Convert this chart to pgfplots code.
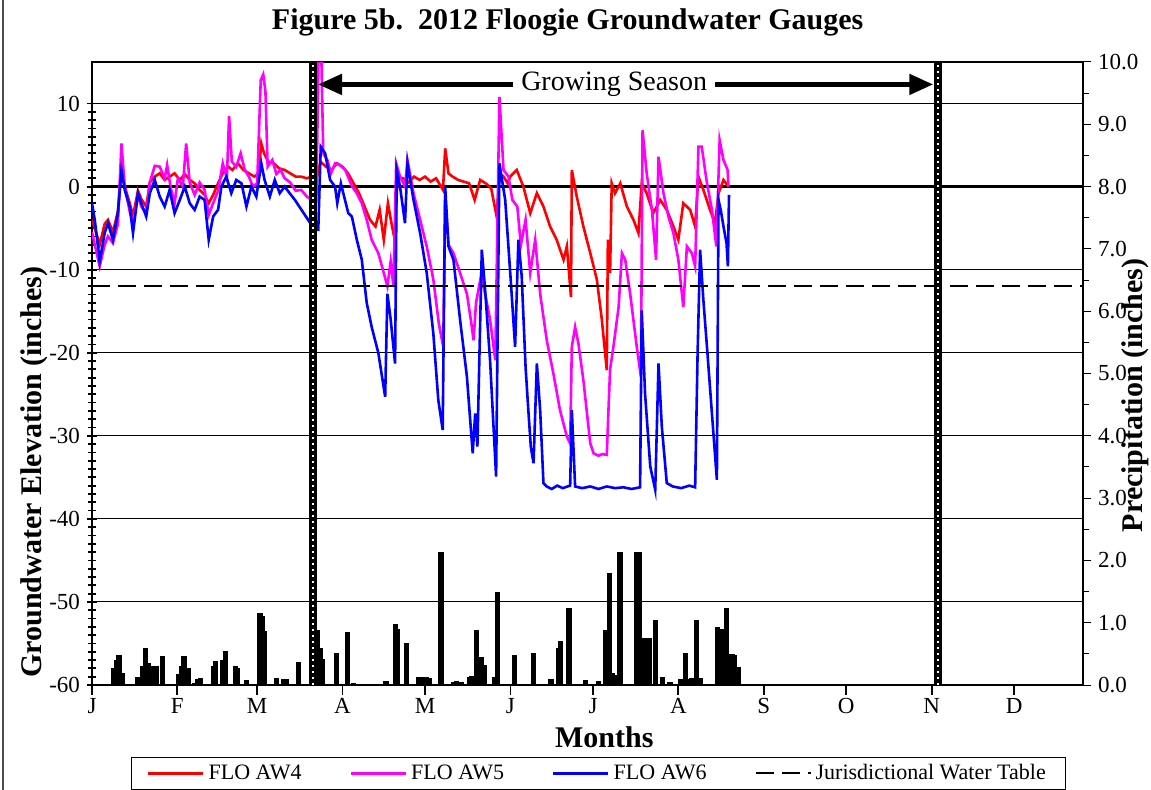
\documentclass[border=0pt]{standalone}
\usepackage{pgfplots}
\pgfplotsset{compat=1.18}
\usetikzlibrary{arrows.meta}
\usepackage{fontspec}
\setmainfont{Liberation Serif}

\definecolor{aw4}{RGB}{255,0,0}
\definecolor{aw5}{RGB}{255,0,255}
\definecolor{aw6}{RGB}{0,0,255}

\begin{document}
\begin{tikzpicture}
\path[use as bounding box] (-46bp,-52.5bp) rectangle (529.5bp,342.5bp);
\draw[line width=0.6bp, black!70] (-44.5bp,-52.5bp) -- (-44.5bp,342.5bp);

% groundwater (left axis)
\begin{axis}[
    name=main,
    at={(0,0)}, anchor=south west,
    scale only axis, width=495.5bp, height=311.5bp,
    xmin=0, xmax=360, ymin=-60, ymax=15,
    xtick={0,31,60,91,121,152,182,213,244,274,305,335},
    xticklabels={J,F,M,A,M,J,J,A,S,O,N,D},
    xticklabel style={yshift=2bp},
    xtick pos=left, ytick pos=left,
    ytick={-60,-50,...,10},
    minor y tick num=9,
    xtick align=outside, ytick align=center,
    major tick length=5bp, minor tick length=3.5bp,
    every tick/.style={black, line width=0.9bp},
    ymajorgrids, grid style={black, line width=0.5bp},
    axis line style={line width=0.6bp},
    tick label style={font=\fontsize{11.5bp}{13bp}\selectfont},
    /pgf/number format/assume math mode=true,
    title={Figure 5b.\ \ 2012 Floogie Groundwater Gauges},
    title style={font=\bfseries\fontsize{15bp}{17bp}\selectfont,
        at={(axis description cs:0.48,1)}, anchor=base, yshift=10.5bp},
    xlabel={Months},
    xlabel style={font=\bfseries\fontsize{15bp}{17bp}\selectfont,
        at={(axis description cs:0.517,0)}, anchor=base, yshift=-31bp},
    ylabel={Groundwater Elevation (inches)},
    ylabel style={font=\bfseries\fontsize{15bp}{17bp}\selectfont,
        at={(axis description cs:-0.0585,0.342)}, anchor=center},
    legend style={at={(0.511,-0.142)}, anchor=center, legend columns=4,
        draw=black, line width=0.6bp,
        font=\fontsize{11bp}{12bp}\selectfont,
        inner xsep=8bp, inner ysep=1.5bp,
        /tikz/every even column/.append style={column sep=22bp}},
    legend image code/.code={\draw[#1] (0bp,0bp) -- (27.5bp,0bp);},
]

\addplot[forget plot, black, line width=1.6bp] coordinates {(0,0) (360,0)};

% FLO AW4
\addplot[aw4, line width=1.3bp] coordinates {
(0,-4) (1,-5) (2.8,-7) (4.6,-4.5) (5.8,-4) (7.6,-5.5) (9.4,-3) (10.7,2)
(11.9,0) (13.7,-2) (14.9,-3.5) (16.7,-0.5) (17.9,-1.5) (19.7,-2.4) (21,0.5)
(22.8,1.2) (24.6,1.6) (26.4,0.8) (28.2,1.2) (30,1.6) (31.9,0.8) (33.7,1.5)
(35.5,0.8) (37.3,0.4) (39.1,-0.4) (40.9,-1) (42.4,-2) (44,-1) (45.8,0.4)
(47.5,1.6) (49.5,2.4) (51,2) (53,2.8) (55,2) (57,1.6) (59,1.2) (60.5,1.6)
(61.5,5.2) (62.5,4) (64,3) (66,2.8) (68,2.2) (70,2) (72,1.6) (74,1.2)
(76,1.2) (78,1) (80,1.2) (81.5,0.8) (83,3) (85,2.4) (87,2) (89,2.8) (91,2.4)
(93,1.6) (95,0.4) (97,-0.8) (99,-2.4) (101,-4) (103,-4.8) (104.5,-2.8)
(106,-6.4) (107.5,-2) (109,-4.8) (110,-6.4) (111,1.2) (113,1) (115,0.5)
(117,1.2) (119,0.8) (121,1.2) (123,0.6) (125,1) (127.5,-0.4) (128.3,4.6)
(129.5,1.6) (131,1.2) (133,0.8) (135,0.6) (137,0.4) (139,-1.6) (141,0.8)
(143,0.4) (145,-0.2) (147,-3.6) (148,1.6) (149.5,1.2) (151,0.4) (151.9,1.2)
(154.3,2) (156.7,0) (159.2,-3.2) (161.6,-0.8) (164,-2.4) (166.4,-4.8)
(168.8,-6.4) (171.3,-8.8) (172.5,-7.2) (174,-13.3) (174.3,2) (176.1,-1.2)
(178.5,-4.8) (181,-8) (183.4,-11.2) (185.2,-16) (187,-22.1) (187.4,-6.4)
(188.2,-10.4) (188.8,0.4) (190,-0.8) (191.9,0.4) (194.3,-2.4) (196.7,-4)
(198.5,-5.6) (199.7,0.4) (201.5,-0.8) (203.9,-3.2) (206.4,-1.6) (208.8,-2.8)
(211.2,-4.8) (213,-6.4) (214.8,-2) (217.3,-2.8) (219.1,-4.8) (220.3,1.2)
(222.1,-0.4) (224.5,-2.8) (226.3,-4.4) (227.6,-0.8) (229.4,0.8) (231.2,0)
};
\addlegendentry{FLO AW4}

% FLO AW5
\addplot[aw5, line width=1.3bp] coordinates {
(0,-5.5) (1,-7) (2.8,-9.6) (4.6,-7) (5.8,-6) (7.6,-6.8) (9.4,-4.5) (10.7,5.2)
(11.9,0) (13.7,-3) (14.9,-4.4) (16.7,-1) (17.9,-2.4) (19.7,-3.2) (21,0.5)
(22.8,2.5) (24.6,2.4) (26.4,1) (27.3,2.6) (28.5,0) (30,-2) (31.2,1) (33,0)
(34.2,5.2) (35.5,0.5) (37.3,-1) (39.1,0.5) (40.9,-0.4) (42.4,-3.4) (44,-2)
(45.8,-0.5) (47.5,2.8) (49,1) (49.8,8.5) (50.8,3) (52.4,2.4) (54,4) (55.5,2)
(57,1.2) (58.5,0) (60,0.4) (61.3,12.8) (62.2,13.5) (63,11.5) (63.8,2.4)
(65.5,3.2) (67,1.5) (68.5,2) (70,1) (72,0.5) (74,-0.5) (76,-0.4) (78,-1.2)
(80,-1.6) (81.5,-1.8) (82.3,16) (83.3,16) (84,4) (85.5,3.2) (86.8,1.6)
(88.3,2.8) (90,2.6) (92,2) (94.5,0) (96.2,-0.8) (98,-2) (99.8,-4)
(101.6,-6.4) (104,-8) (106,-10.4) (107.3,-12) (108.5,-9) (109.5,-12)
(110.5,2.8) (111.9,1.2) (113.7,0) (114.6,3.2) (116.8,-0.8) (119.2,-4)
(121.6,-7.2) (124,-11.2) (126,-16.5) (127.6,-19.3) (128.3,-1) (129.5,-7)
(131.3,-8) (133.7,-10.4) (136.2,-12.9) (138,-16.9) (138.6,-18.5) (139.5,-14)
(141.3,-10.8) (142.8,-12.9) (144.6,-16) (146.5,-20.9) (148,10.8) (149.5,2)
(151.3,1.2) (152.7,-1.6) (154.5,-2.4) (155.8,-7) (157.5,-4) (159.2,-10.4)
(161,-6.4) (162.8,-12.9) (165.2,-18.5) (167.6,-22.5) (170,-26.9)
(172.5,-30.1) (173.7,-30.9) (174.3,-19.3) (175.5,-16.9) (176.7,-18.9)
(178.5,-23.3) (181,-30.9) (182.2,-32.1) (184,-32.4) (185.5,-32.2) (187,-32.3)
(187.6,-27) (188.2,-22) (189.4,-19.3) (191.3,-14.5) (192.5,-8) (193.7,-8.8)
(195.5,-12.9) (197.9,-19.3) (199.4,-22.9) (200,6.8) (201.5,1.6) (203.4,-2.8)
(204.9,-8.8) (205.8,3.6) (207.6,-0.8) (209.4,-3.6) (211.2,-5.6) (213,-8.8)
(214.8,-14.5) (216.1,-7.2) (217.9,-8) (219.1,-9.6) (220.3,4.8) (221.5,4.8)
(223.4,0.4) (225.2,-2.8) (226.8,-7.2) (228,5.6) (229.4,3.2) (230.9,2)
(231.2,0)
};
\addlegendentry{FLO AW5}

% FLO AW6
\addplot[aw6, line width=1.3bp] coordinates {
(0,-2) (1,-4) (2.8,-9) (4.6,-5.6) (5.8,-4.4) (7.6,-6.4) (9.4,-3.2) (10.7,2)
(11.9,-0.4) (13.7,-2.4) (14.9,-5.6) (16.7,-0.8) (17.9,-2) (19.7,-3.6)
(21,-0.8) (22.8,0.8) (24.6,-1.2) (26.4,-2.4) (28.2,-0.4) (30,-3.2)
(31.9,-1.6) (33.7,0) (35.5,-2) (37.3,-2.8) (39.1,-1.2) (40.9,-1.6)
(42.4,-6.4) (44,-3.6) (45.8,-2.8) (47,0) (48.8,1.2) (50.6,-0.8) (52.4,0.8)
(54.3,0.4) (56.1,-2.4) (57.9,0) (59.7,-1.2) (61.5,2.8) (62.7,0.8)
(64.6,-1.2) (66.4,0.8) (68.2,-0.8) (70,0) (71.8,-0.8) (73.7,-1.6)
(76.1,-2.8) (78.5,-4) (80.9,-5.2) (82.2,-5.2) (83.1,4.8) (84.7,4.0)
(86.5,0.8) (88.3,0) (89.1,-2) (90.4,0.4) (91.9,-1.6) (93.1,-3.2) (94.4,-3.6)
(96.2,-6.4) (98,-8.8) (99.8,-14) (101.6,-16.9) (104,-20) (106.5,-25.3)
(107.3,-12.9) (108.5,-16) (110.1,-21.3) (110.7,2) (111.9,0) (113.7,-4.4)
(114.6,2.8) (116.8,-1.6) (119.2,-5.6) (121.6,-10.4) (124,-17.7)
(125.8,-25.7) (127.4,-29.3) (128.3,0) (129.5,-7.2) (131.3,-8.8) (133.7,-16)
(136.2,-22.9) (138.3,-32.1) (139.2,-27.3) (140,-31.3) (141.6,-7.6)
(142.8,-12.4) (144.6,-20.9) (146.8,-34.9) (148,2.8) (150.1,-1.6)
(152.1,-11.2) (153.7,-19.3) (154.9,-6.4) (156.1,-10.8) (157.5,-21.7)
(158.5,-26.9) (159.4,-31.3) (160.4,-33.3) (161.6,-21.3) (162.8,-26.9)
(164,-35.7) (165.2,-36.1) (167,-36.4) (169,-36) (171,-36.3) (173.7,-36)
(174.3,-26.9) (175.5,-36.1) (178,-36.3) (181,-36.1) (184,-36.4) (187,-36.1)
(190,-36.3) (193,-36.2) (196,-36.4) (199.1,-36.2) (199.7,-14.9)
(200.9,-24.9) (202.8,-33.7) (204.6,-36.5) (205.8,-21.3) (207,-28.9)
(208.8,-35.7) (211,-36.1) (214,-36.3) (217,-36) (219.1,-36.2) (220,-20)
(220.9,-7.6) (222.1,-13.7) (223.4,-19.3) (225.2,-27.3) (227,-35.3)
(227.6,-1.6) (228.5,-3) (229.5,-5) (230.5,-6.8) (231,-9.6) (231.4,-1)
};
\addlegendentry{FLO AW6}

% jurisdictional water table
\addplot[black, line width=1bp, dash pattern=on 9bp off 4bp] coordinates {(0,-12) (360,-12)};
\addlegendentry{Jurisdictional Water Table}

% growing season limits
\addplot[forget plot, black, line width=4bp] coordinates {(80.4,-60) (80.4,15)};
\addplot[forget plot, white, line width=1bp, dash pattern=on 1bp off 2bp] coordinates {(80.4,-60) (80.4,15)};
\addplot[forget plot, black, line width=4bp] coordinates {(307.5,-60) (307.5,15)};
\addplot[forget plot, white, line width=1bp, dash pattern=on 1bp off 2bp] coordinates {(307.5,-60) (307.5,15)};

\draw[line width=2.5bp, {Triangle[length=12bp,width=10bp]}-{Triangle[length=12bp,width=10bp]}]
    (axis cs:82.1,12.3) -- (axis cs:305.6,12.3);
\node[fill=white, inner xsep=4bp, inner ysep=1bp, font=\fontsize{14bp}{16bp}\selectfont]
    at (axis cs:189.7,12.3) {Growing Season};
\end{axis}

% precipitation (right axis)
\begin{axis}[
    at={(0,0)}, anchor=south west,
    scale only axis, width=495.5bp, height=311.5bp,
    xmin=0, xmax=360, ymin=0, ymax=10,
    axis x line=none, axis y line*=right,
    ytick={0,1,...,10}, minor y tick num=1,
    ytick align=outside,
    major tick length=4bp, minor tick length=3bp,
    every tick/.style={black, line width=0.5bp},
    axis line style={line width=0.6bp},
    tick label style={font=\fontsize{11.5bp}{13bp}\selectfont},
    /pgf/number format/assume math mode=true,
    yticklabel style={/pgf/number format/fixed, /pgf/number format/fixed zerofill,
        /pgf/number format/precision=1},
    ylabel={Precipitation (inches)},
    ylabel style={font=\bfseries\fontsize{15bp}{17bp}\selectfont,
        at={(axis description cs:1.0525,0.465)}, anchor=center},
]
\addplot[ycomb, black, line width=2.6bp] coordinates {
(7.7,0.27) (8.8,0.4) (9.8,0.48) (11.1,0.2) (16.5,0.13) (18.5,0.3) (19.5,0.59)
(20.5,0.35) (22.5,0.31) (23.5,0.3) (25.5,0.47) (31.5,0.18) (32.5,0.3)
(33.4,0.46) (35,0.28) (37.4,0.04) (38.5,0.1) (39.5,0.12) (44,0.3) (45,0.38)
(47.5,0.4) (48.5,0.55) (52,0.3) (53,0.28) (56.2,0.08) (61,1.16) (62,1.1)
(62.6,0.86) (66.9,0.12) (69.7,0.09) (70.7,0.09) (75,0.37) (81.9,0.88)
(82.9,0.6) (83.7,0.41) (88.9,0.51) (92.7,0.85) (95,0.03) (106.5,0.06)
(107.1,0.07) (110.2,0.98) (111,0.9) (114.3,0.68) (118.5,0.13) (119.5,0.13)
(121.6,0.13) (122.5,0.12) (126.8,2.14) (131.5,0.05) (132.5,0.06)
(134.3,0.05) (137,0.13) (138,0.14) (139.8,0.89) (141.4,0.45) (142.6,0.32)
(146.4,0.13) (147.4,1.5) (153.5,0.48) (160.4,0.52) (166.5,0.09) (167,0.09)
(169.5,0.6) (170.3,0.70) (173.3,1.23) (179.4,0.08) (184,0.06) (186.4,0.88)
(187.9,1.79) (189,0.2) (190,0.16) (191.8,2.13) (198,2.13) (199,2.13)
(200,0.75) (201.5,0.75) (202.5,0.75) (204.8,1.05) (207.3,0.13) (210,0.05)
(213.9,0.09) (215.5,0.52) (216.5,0.1) (217.9,0.12) (219.6,1.04) (221,0.11)
(227.3,0.93) (228.5,0.9) (230.4,1.24) (232.5,0.5) (233.4,0.48) (234.9,0.29)
};
\end{axis}
\end{tikzpicture}
\end{document}
